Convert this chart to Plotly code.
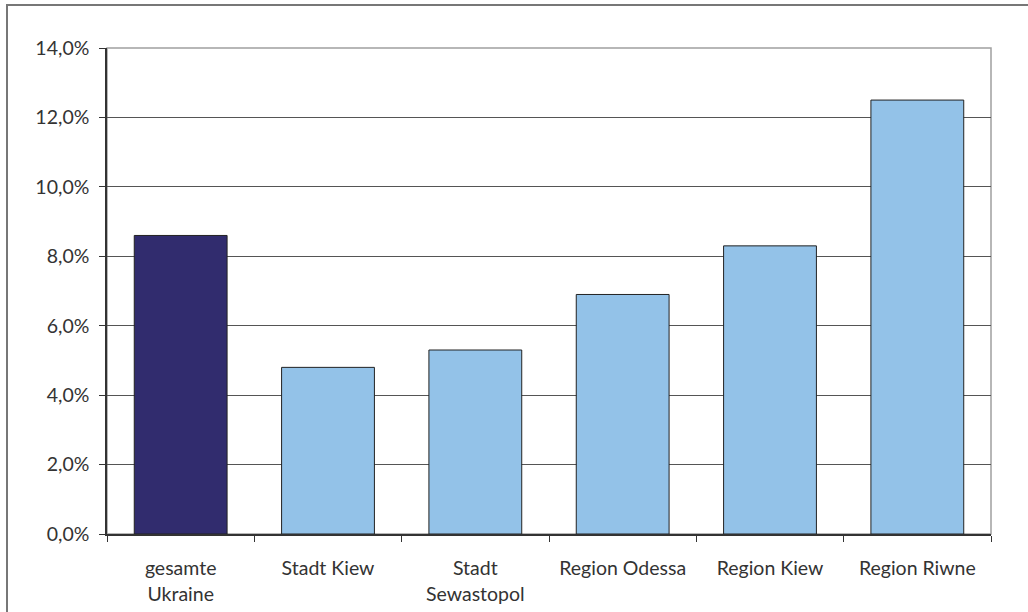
import plotly.graph_objects as go

categories = ["gesamte<br>Ukraine", "Stadt Kiew", "Stadt<br>Sewastopol",
              "Region Odessa", "Region Kiew", "Region Riwne"]
values = [8.6, 4.8, 5.3, 6.9, 8.3, 12.5]
colors = ["#312C6E", "#93C2E8", "#93C2E8", "#93C2E8", "#93C2E8", "#93C2E8"]
y_ticks = [0, 2, 4, 6, 8, 10, 12, 14]
y_ticktext = [f"{v:.1f}".replace(".", ",") + "%" for v in y_ticks]

W, H = 1028, 612
ml, mr, mt, mb = 107, 37, 48, 78
pw, ph = W - ml - mr, H - mt - mb

fig = go.Figure(go.Bar(
    x=categories, y=values,
    marker=dict(color=colors, line=dict(color="#222222", width=1)),
    hoverinfo="skip",
))

font = dict(family="Lato, 'Open Sans', sans-serif", size=19.5, color="#333333")

fig.update_layout(
    width=W, height=H,
    margin=dict(l=ml, r=mr, t=mt, b=mb, autoexpand=False),
    paper_bgcolor="white", plot_bgcolor="white",
    bargap=0.37,
    showlegend=False,
    font=font,
    shapes=[
        dict(type="rect", xref="paper", yref="paper",
             x0=0, x1=1, y0=0, y1=1,
             line=dict(color="#A0A0A0", width=1.5), layer="below"),
        dict(type="rect", xref="paper", yref="paper",
             x0=(7 - ml) / pw, x1=(W + 10 - ml) / pw,
             y0=-(H + 10 - mt - ph) / ph, y1=1 + (mt - 5) / ph,
             line=dict(color="#777777", width=2)),
    ],
)

fig.update_xaxes(
    showline=True, linecolor="#333333", linewidth=1.5,
    ticks="outside", tickson="boundaries", ticklen=6, tickcolor="#333333",
    showgrid=False, tickfont=font, ticklabelstandoff=16, automargin=False,
)
fig.update_yaxes(
    range=[0, 14], tickvals=y_ticks, ticktext=y_ticktext,
    showline=True, linecolor="#333333", linewidth=1.5,
    ticks="outside", ticklen=6, tickcolor="#333333",
    showgrid=True, gridcolor="#555555", gridwidth=1,
    zeroline=False, tickfont=font, ticklabelstandoff=6, automargin=False,
)

fig.write_html("out.html",
               config={"displayModeBar": False},
               post_script="document.body.style.margin='0px';")
